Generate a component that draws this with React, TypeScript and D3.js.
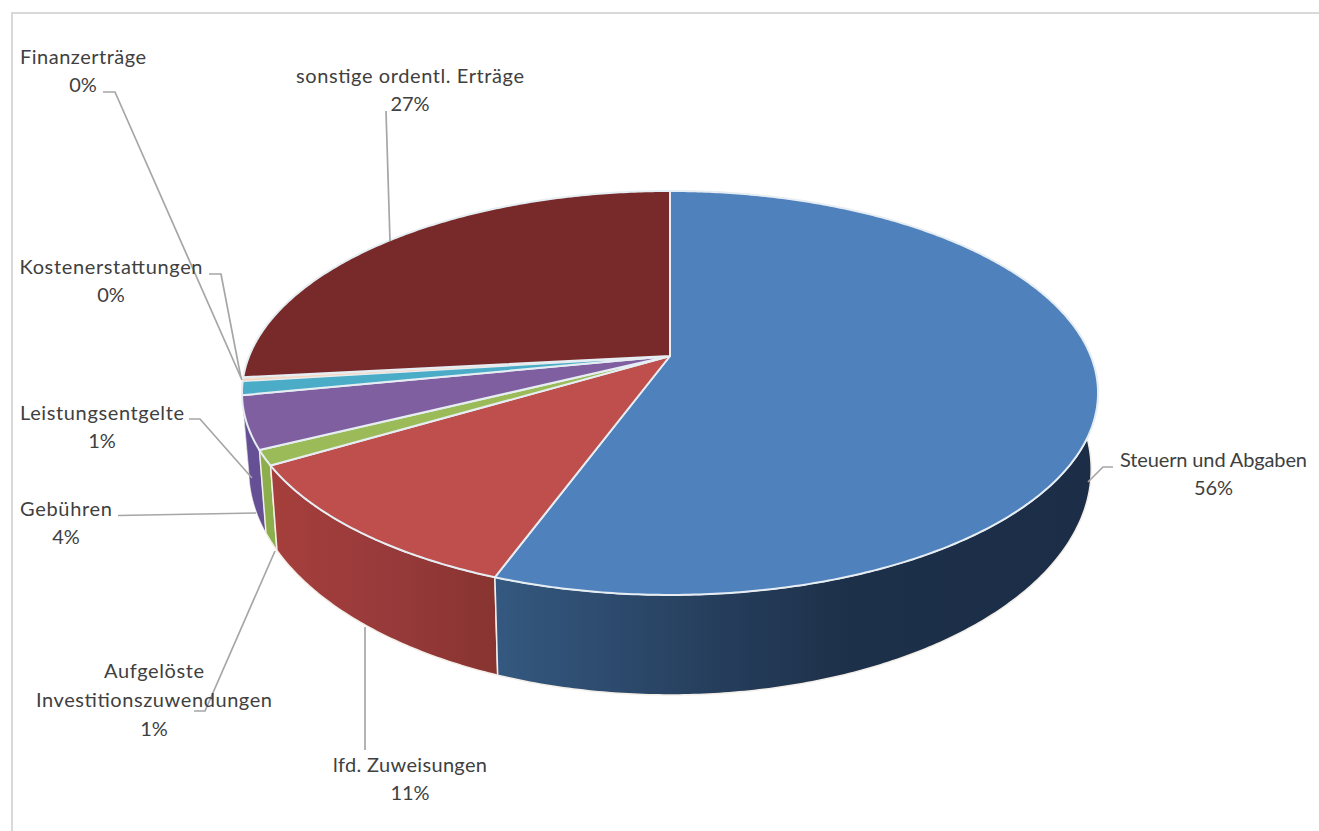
import React, { useMemo } from "react";
import * as d3 from "d3";

// Revenue shares in percent, in drawing order (clockwise from twelve o'clock).
const categories = [
  "Steuern und Abgaben",
  "lfd. Zuweisungen",
  "Aufgelöste Investitionszuwendungen",
  "Gebühren",
  "Leistungsentgelte",
  "Kostenerstattungen",
  "Finanzerträge",
  "sonstige ordentl. Erträge",
];
const shares = [55.6, 10.9, 1.2, 4.2, 1.1, 0.2, 0.1, 26.7];
const shareLabels = ["56%", "11%", "1%", "4%", "1%", "0%", "0%", "27%"];
const topColors = ["#4F81BD", "#BE4F4C", "#9BBB59", "#7F5FA0", "#4AACC6", "#F9D5BC", "#F6E3D8", "#772A29"];
const wallStops: [number, string][][] = [
  [[500, "#34587F"], [700, "#27405F"], [850, "#1D3049"], [1090, "#1C2E47"]],
  [[276, "#A53F3C"], [400, "#96393A"], [500, "#87342F"]],
  [[266, "#8CAE4C"], [280, "#8CAE4C"]],
  [[244, "#654F95"], [268, "#654F95"]],
  [[240, "#3C8CA3"], [250, "#3C8CA3"]],
  [[240, "#C47A3C"], [250, "#C47A3C"]],
  [[240, "#C47A3C"], [250, "#C47A3C"]],
  [[240, "#5A2020"], [670, "#5A2020"]],
];

// Label blocks: centre x, the baseline of each line and the set width of each name line.
const labelLayout: { x: number; lines: string[]; ys: number[]; widths: number[] }[] = [
  { x: 1213.5, lines: ["Steuern und Abgaben", "56%"], ys: [467, 495], widths: [187] },
  { x: 410, lines: ["lfd. Zuweisungen", "11%"], ys: [772, 800], widths: [154] },
  { x: 154, lines: ["Aufgelöste", "Investitionszuwendungen", "1%"], ys: [678, 707, 736], widths: [100, 236] },
  { x: 66, lines: ["Gebühren", "4%"], ys: [516, 544], widths: [92] },
  { x: 102, lines: ["Leistungsentgelte", "1%"], ys: [420, 448], widths: [164] },
  { x: 111, lines: ["Kostenerstattungen", "0%"], ys: [274, 302], widths: [183] },
  { x: 83, lines: ["Finanzerträge", "0%"], ys: [64, 92], widths: [126] },
  { x: 410, lines: ["sonstige ordentl. Erträge", "27%"], ys: [83, 111], widths: [228] },
];

// Leader lines from each label to its slice.
const leaderLayout: [number, number][][] = [
  [[1113, 467], [1103, 467], [1088, 482]],
  [[365, 750], [365, 627]],
  [[194, 711], [205, 711], [275, 551]],
  [[118, 515.5], [256, 513]],
  [[189, 419], [200, 419], [252, 478]],
  [[209, 274], [221, 274], [241, 378]],
  [[103, 92], [115, 92], [242, 380]],
  [[386, 111], [390, 241]],
];

// Perspective of the tilted disc: the pie's centre sits above the centre of its outline.
const apexX = 670;
const apexY = 356;
const tilt = 0.183;
const radiusX = 420.8;
const radiusY = 195.2;

const topPoint = (angle: number, r = 1): [number, number] => {
  const x = r * Math.sin(angle);
  const y = -r * Math.cos(angle);
  const w = 1 - tilt * y;
  return [apexX + (radiusX * x) / w, apexY + (radiusY * y) / w];
};

// Lower rim of the extruded disc, converging slightly towards the vanishing point.
const bottomPoint = ([x, y]: [number, number]): [number, number] => [
  apexX + 0.984 * (x - apexX),
  1.117 * y + 30.4,
];

const rimPoints = (a0: number, a1: number) => {
  const n = Math.max(2, Math.ceil((a1 - a0) / 0.01));
  return d3.range(n + 1).map((i) => topPoint(a0 + ((a1 - a0) * i) / n));
};

export default function App() {
  const arcs = useMemo(
    () => d3.pie<number>().sort(null).startAngle(0).endAngle(2 * Math.PI)(shares),
    []
  );
  const line = d3.line();
  const wallOrder = d3.range(1, arcs.length).reverse().concat(0);
  const font = "Lato, 'Open Sans', sans-serif";

  return (
    <svg
      width={1319}
      height={831}
      style={{ position: "absolute", left: 0, top: 0, display: "block", background: "#fff" }}
    >
      <defs>
        {wallStops.map((stops, i) => (
          <linearGradient
            key={i}
            id={`wall-${i}`}
            gradientUnits="userSpaceOnUse"
            x1={stops[0][0]}
            x2={stops[stops.length - 1][0]}
            y1={0}
            y2={0}
          >
            {stops.map(([x, c], j) => (
              <stop
                key={j}
                offset={(x - stops[0][0]) / (stops[stops.length - 1][0] - stops[0][0])}
                stopColor={c}
              />
            ))}
          </linearGradient>
        ))}
      </defs>

      {/* Chart frame: only the top and left edges fall inside the view */}
      <path d="M12,831V13H1319" fill="none" stroke="#D9D9D9" strokeWidth={2} />

      {/* Side walls, back to front */}
      {wallOrder.map((i) => {
        const rim = rimPoints(arcs[i].startAngle, arcs[i].endAngle);
        const lower = rim.map(bottomPoint).reverse();
        return (
          <path
            key={i}
            d={line([...rim, ...lower]) + "Z"}
            fill={`url(#wall-${i})`}
            stroke="#F3EEE8"
            strokeWidth={i === 0 || i === 1 || i === 2 ? 1.5 : 0.6}
          />
        );
      })}
      {/* Top faces */}
      {arcs.map((a, i) => (
        <path
          key={i}
          d={line([[apexX, apexY], ...rimPoints(a.startAngle, a.endAngle)]) + "Z"}
          fill={topColors[i]}
          stroke="#E6EEF3"
          strokeWidth={i === 5 || i === 6 ? 0.6 : 2}
          strokeLinejoin="round"
        />
      ))}

      {/* Leaders */}
      {leaderLayout.map((pts, i) => (
        <path key={i} d={line(pts) ?? ""} fill="none" stroke="#A6A6A6" strokeWidth={1.7} />
      ))}

      {/* Labels */}
      {labelLayout.map((l, i) => (
        <text
          key={categories[i]}
          textAnchor="middle"
          fontFamily={font}
          fontSize={20}
          fill="#404040"
        >
          {l.lines.slice(0, -1).map((t, j) => (
            <tspan key={j} x={l.x} y={l.ys[j]} textLength={l.widths[j]} lengthAdjust="spacing">
              {t}
            </tspan>
          ))}
          <tspan x={l.x} y={l.ys[l.ys.length - 1]}>
            {shareLabels[i]}
          </tspan>
        </text>
      ))}
    </svg>
  );
}
